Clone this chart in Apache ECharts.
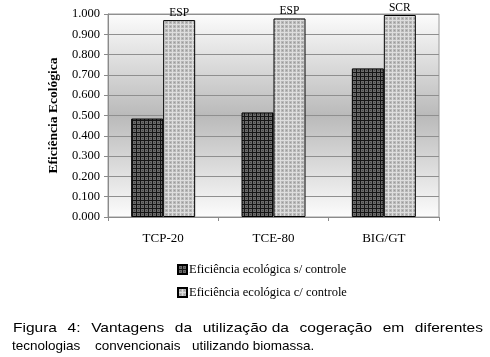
<!DOCTYPE html>
<html>
<head>
<meta charset="utf-8">
<script src="https://cdn.jsdelivr.net/npm/echarts@6/dist/echarts.min.js"></script>
<style>
  html, body { margin: 0; padding: 0; background: #fff; }
  #chart { width: 490px; height: 357px; }
</style>
</head>
<body>
<div id="chart"></div>
<script>
const categories = ['TCP-20', 'TCE-80', 'BIG/GT'];
const seriesNames = ['Eficiência ecológica s/ controle', 'Eficiência ecológica c/ controle'];
const semControle = [0.485, 0.515, 0.732];
const comControle = [0.970, 0.978, 0.995];
const barTags = ['ESP', 'ESP', 'SCR'];
const captionLine1 = ['Figura', '4:', 'Vantagens', 'da', 'utilização da', 'cogeração', 'em', 'diferentes'];
const captionLine2 = [['tecnologias', 12], ['convencionais', 95], ['utilizando biomassa.', 192]];

const captionFont = '13.5px "Liberation Sans"';
const stretch1 = 1.15; // first caption line looks letter-spaced in the original

// small hatch patterns for the bars
function makePattern(base, line, dot) {
  let c = document.createElement('canvas');
  c.width = 4;
  c.height = 4;
  let ctx = c.getContext('2d');
  ctx.fillStyle = base;
  ctx.fillRect(0, 0, 4, 4);
  ctx.fillStyle = line;
  ctx.fillRect(0, 0, 4, 1);
  ctx.fillRect(0, 0, 1, 4);
  if (dot) {
    ctx.fillStyle = dot;
    ctx.fillRect(2, 2, 1, 1);
  }
  return { image: c, repeat: 'repeat' };
}

const darkFill = makePattern('#6a6a6a', '#151515', '#454545');
const lightFill = makePattern('#b8b8b8', '#dedede', '#999');

// justified first caption line: spread words between x0 and x1
function justifyWords(words, x0, x1, sx) {
  let ctx = document.createElement('canvas').getContext('2d');
  ctx.font = captionFont;
  let widths = words.map((w) => ctx.measureText(w).width * sx);
  let total = widths.reduce((a, b) => a + b, 0);
  let gap = (x1 - x0 - total) / (words.length - 1);
  let x = x0;
  return words.map((w, i) => {
    let pos = [w, x];
    x += widths[i] + gap;
    return pos;
  });
}

function captionWords(words, y, sx) {
  return words.map(([t, x]) => ({
    type: 'text',
    x: x,
    y: y,
    scaleX: sx,
    style: {
      text: t,
      font: captionFont,
      fill: '#000',
      verticalAlign: 'middle',
    },
  }));
}

let chart = echarts.init(document.getElementById('chart'));

const serif = 'Liberation Serif';

let option = {
  animation: false,
  backgroundColor: '#fff',
  grid: {
    left: 108,
    right: 51,
    top: 14,
    bottom: 140,
    show: true,
    borderColor: '#9a9a9a',
    borderWidth: 1,
    backgroundColor: new echarts.graphic.LinearGradient(0, 0, 0, 1, [
      { offset: 0, color: '#fcfcfc' },
      { offset: 0.5, color: '#bababa' },
      { offset: 1, color: '#fcfcfc' },
    ]),
  },
  legend: {
    orient: 'vertical',
    left: 172,
    top: 258,
    itemWidth: 9,
    itemHeight: 9,
    itemGap: 10,
    icon: 'rect',
    textStyle: { fontFamily: serif, fontSize: 12.5, color: '#000', padding: [0, 0, 0, -3] },
    data: seriesNames,
  },
  xAxis: {
    type: 'category',
    data: categories,
    axisLine: { lineStyle: { color: '#8a8a8a' } },
    axisTick: { show: true, length: 4, lineStyle: { color: '#8a8a8a' } },
    axisLabel: { fontFamily: serif, fontSize: 13, color: '#000', margin: 15 },
  },
  yAxis: {
    type: 'value',
    min: 0,
    max: 1,
    interval: 0.1,
    name: 'Eficiência Ecológica',
    nameLocation: 'middle',
    nameGap: 40,
    nameTextStyle: { fontFamily: serif, fontSize: 13.5, fontWeight: 'bold', color: '#000' },
    axisLine: { show: true, lineStyle: { color: '#8a8a8a' } },
    axisTick: { show: true, length: 4, lineStyle: { color: '#8a8a8a' } },
    splitLine: { lineStyle: { color: '#8f8f8f' } },
    axisLabel: {
      fontFamily: serif,
      fontSize: 12.5,
      color: '#000',
      margin: 8,
      formatter: (v) => v.toFixed(3),
    },
  },
  series: [
    {
      name: seriesNames[0],
      type: 'bar',
      data: semControle,
      barWidth: 32,
      barGap: '0%',
      itemStyle: { color: darkFill, borderColor: '#000', borderWidth: 1 },
    },
    {
      name: seriesNames[1],
      type: 'bar',
      data: comControle,
      barWidth: 32,
      itemStyle: { color: lightFill, borderColor: '#000', borderWidth: 1 },
      label: {
        show: true,
        position: 'top',
        distance: 1,
        fontFamily: serif,
        fontSize: 11.5,
        color: '#000',
        formatter: (p) => barTags[p.dataIndex],
      },
    },
  ],
  graphic: [
    ...captionWords(justifyWords(captionLine1, 13, 483, stretch1), 328, stretch1),
    ...captionWords(captionLine2, 346, 1),
  ],
};

chart.setOption(option);
</script>
</body>
</html>
